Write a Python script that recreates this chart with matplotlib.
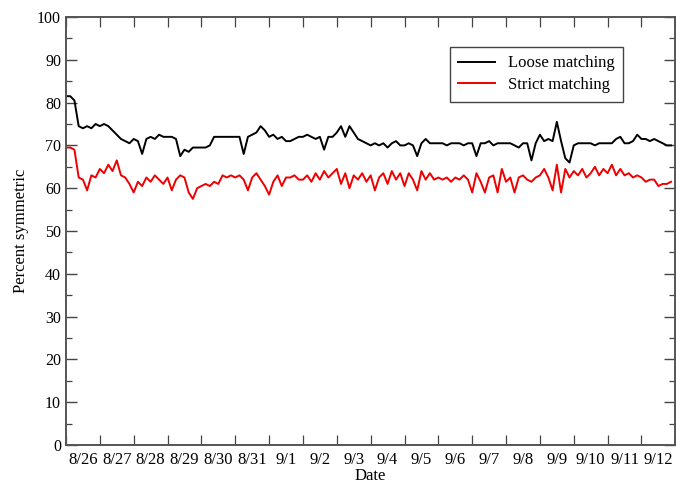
import numpy as np
import pandas as pd
import matplotlib
matplotlib.use("Agg")
import matplotlib.pyplot as plt
import matplotlib.dates as mdates
from matplotlib.ticker import MultipleLocator, NullFormatter

# samples every 3 hours, 8/26 through 9/12
start = "2008-08-26"
interval = "3h"

loose = [
    81.5, 81.5, 80.5, 74.5, 74.0, 74.5, 74.0, 75.0,
    74.5, 75.0, 74.5, 73.5, 72.5, 71.5, 71.0, 70.5,
    71.5, 71.0, 68.0, 71.5, 72.0, 71.5, 72.5, 72.0,
    72.0, 72.0, 71.5, 67.5, 69.0, 68.5, 69.5, 69.5,
    69.5, 69.5, 70.0, 72.0, 72.0, 72.0, 72.0, 72.0,
    72.0, 72.0, 68.0, 72.0, 72.5, 73.0, 74.5, 73.5,
    72.0, 72.5, 71.5, 72.0, 71.0, 71.0, 71.5, 72.0,
    72.0, 72.5, 72.0, 71.5, 72.0, 69.0, 72.0, 72.0,
    73.0, 74.5, 72.0, 74.5, 73.0, 71.5, 71.0, 70.5,
    70.0, 70.5, 70.0, 70.5, 69.5, 70.5, 71.0, 70.0,
    70.0, 70.5, 70.0, 67.5, 70.5, 71.5, 70.5, 70.5,
    70.5, 70.5, 70.0, 70.5, 70.5, 70.5, 70.0, 70.5,
    70.5, 67.5, 70.5, 70.5, 71.0, 70.0, 70.5, 70.5,
    70.5, 70.5, 70.0, 69.5, 70.5, 70.5, 66.5, 70.5,
    72.5, 71.0, 71.5, 71.0, 75.5, 71.0, 67.0, 66.0,
    70.0, 70.5, 70.5, 70.5, 70.5, 70.0, 70.5, 70.5,
    70.5, 70.5, 71.5, 72.0, 70.5, 70.5, 71.0, 72.5,
    71.5, 71.5, 71.0, 71.5, 71.0, 70.5, 70.0, 70.0,
]

strict = [
    69.5, 69.5, 69.0, 62.5, 62.0, 59.5, 63.0, 62.5,
    64.5, 63.5, 65.5, 64.0, 66.5, 63.0, 62.5, 61.0,
    59.0, 61.5, 60.5, 62.5, 61.5, 63.0, 62.0, 61.0,
    62.5, 59.5, 62.0, 63.0, 62.5, 59.0, 57.5, 60.0,
    60.5, 61.0, 60.5, 61.5, 61.0, 63.0, 62.5, 63.0,
    62.5, 63.0, 62.0, 59.5, 62.5, 63.5, 62.0, 60.5,
    58.5, 61.5, 63.0, 60.5, 62.5, 62.5, 63.0, 62.0,
    62.0, 63.0, 61.5, 63.5, 62.0, 64.0, 62.5, 63.5,
    64.5, 61.0, 63.5, 60.0, 63.0, 62.0, 63.5, 61.5,
    63.0, 59.5, 62.5, 63.5, 61.0, 64.0, 62.0, 63.5,
    60.5, 63.5, 62.0, 59.5, 64.0, 62.0, 63.5, 62.0,
    62.5, 62.0, 62.5, 61.5, 62.5, 62.0, 63.0, 62.0,
    59.0, 63.5, 61.5, 59.0, 62.5, 63.0, 59.0, 64.5,
    61.5, 62.5, 59.0, 62.5, 63.0, 62.0, 61.5, 62.5,
    63.0, 64.5, 62.5, 59.5, 65.5, 59.0, 64.5, 62.5,
    64.0, 63.0, 64.5, 62.5, 63.5, 65.0, 63.0, 64.5,
    63.5, 65.5, 63.0, 64.5, 63.0, 63.5, 62.5, 63.0,
    62.5, 61.5, 62.0, 62.0, 60.5, 61.0, 61.0, 61.5,
]

times = pd.date_range(start, periods=len(loose), freq=interval)

plt.rcParams["font.family"] = ["Liberation Serif", "DejaVu Serif"]
plt.rcParams["font.size"] = 12

fig = plt.figure(figsize=(6.76, 4.83), dpi=100)
ax = fig.add_axes([0.0976, 0.0787, 0.9014, 0.8861])

ax.plot(times, loose, color="black", lw=1.4, label="Loose matching")
ax.plot(times, strict, color="#ee0000", lw=1.4, label="Strict matching")

ax.set_xlim(pd.Timestamp("2008-08-26"), pd.Timestamp("2008-09-13"))
ax.set_ylim(0, 100)

# day boundaries get tick marks, labels sit at midday
ax.xaxis.set_major_locator(mdates.DayLocator())
ax.xaxis.set_major_formatter(NullFormatter())
ax.xaxis.set_minor_locator(mdates.HourLocator(byhour=[12]))
ax.xaxis.set_minor_formatter(mdates.DateFormatter("%-m/%-d"))
ax.tick_params(axis="x", which="minor", length=0, pad=5)
ax.tick_params(axis="x", which="major", direction="in", length=7, top=True,
               width=0.9, color="#444444")

ax.yaxis.set_major_locator(MultipleLocator(10))
ax.yaxis.set_minor_locator(MultipleLocator(5))
ax.tick_params(axis="y", which="major", direction="in", length=8, right=True,
               width=1.0, color="#444444", labelsize=11.5)
ax.tick_params(axis="y", which="minor", direction="in", length=4, right=True,
               width=0.9, color="#444444")

for s in ax.spines.values():
    s.set_color("#555555")
    s.set_linewidth(1.4)

ax.set_xlabel("Date", labelpad=0)
ax.set_ylabel("Percent symmetric", labelpad=6)

leg = ax.legend(loc="upper right", bbox_to_anchor=(0.928, 0.949), fancybox=False,
                edgecolor="#444444", framealpha=1, handlelength=2.2,
                borderpad=0.5, labelspacing=0.35)
leg.get_frame().set_linewidth(1.0)

fig.savefig("out.png", dpi=100)
